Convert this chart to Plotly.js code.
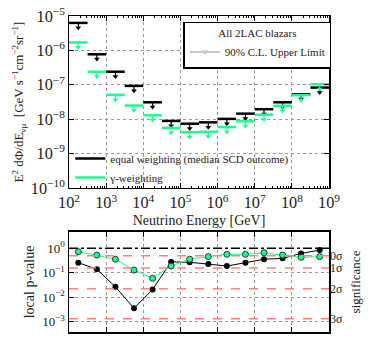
<!DOCTYPE html>
<html>
<head>
<meta charset="utf-8">
<script src="https://cdn.plot.ly/plotly-3.0.1.min.js"></script>
<style>
  html, body { margin: 0; padding: 0; background: #fff; }
  #chart { width: 374px; height: 343px; }
</style>
</head>
<body>
<div id="chart"></div>
<script>
// half-decade energy bins, log10(E/GeV)
const binEdges = [2, 2.5, 3, 3.5, 4, 4.5, 5, 5.5, 6, 6.5, 7, 7.5, 8, 8.5, 9];

// 90% C.L. upper limits, E^2 dPhi/dE [GeV s^-1 cm^-2 sr^-1]
const limitEqual = [6.3e-6, 7.7e-7, 2.4e-7, 9.3e-8, 3.1e-8, 8.9e-9, 7.4e-9, 8.1e-9, 1.02e-8, 1.45e-8, 1.95e-8, 3.1e-8, 5.3e-8, 8.3e-8];
const limitGamma = [1.7e-6, 2.4e-7, 5.1e-8, 2.5e-8, 1.3e-8, 5.6e-9, 4.2e-9, 4.3e-9, 5.9e-9, 8.7e-9, 1.35e-8, 2.45e-8, 5.0e-8, 1.04e-7];

// local p-values per bin
const pEqual = [0.26, 0.14, 0.027, 0.0036, 0.021, 0.28, 0.27, 0.23, 0.19, 0.26, 0.36, 0.39, 0.62, 0.85];
const pGamma = [0.73, 0.53, 0.36, 0.13, 0.060, 0.19, 0.36, 0.46, 0.57, 0.57, 0.66, 0.53, 0.43, 0.46];

// one-sided p-values for 0..3 sigma
const sigmaP = [0.5, 0.1587, 0.02275, 0.00135];
const sigmaLabels = ['0σ', '1σ', '2σ', '3σ'];

// p-value axis ticks
const pTicks = [1, 0.1, 0.01, 0.001];
const pTickText = ['10<sup>0</sup>', '10<sup>−1</sup>', '10<sup>−2</sup>', '10<sup>−3</sup>'];

const GREEN = '#1aff8c';
const SERIF = 'Liberation Serif, DejaVu Serif, serif';
const ARROW = Math.pow(10, -0.17);

const centers = binEdges.slice(0, -1).map((e, i) => Math.pow(10, (e + binEdges[i + 1]) / 2));

function limitTraces(vals, color, name) {
    const bx = [], by = [], sx = [], sy = [], hx = [], hy = [];
    vals.forEach((v, i) => {
        bx.push(Math.pow(10, binEdges[i]), Math.pow(10, binEdges[i + 1]), null);
        by.push(v, v, null);
        sx.push(centers[i], centers[i], null);
        sy.push(v, v * ARROW, null);
        hx.push(centers[i]);
        hy.push(v * Math.pow(10, -0.14));
    });
    return [
        { x: bx, y: by, mode: 'lines', line: { color: color, width: 2.5 }, name: name,
          legend: 'legend2', xaxis: 'x', yaxis: 'y', hoverinfo: 'skip' },
        { x: sx, y: sy, mode: 'lines', line: { color: color, width: 1.2 }, showlegend: false,
          xaxis: 'x', yaxis: 'y', hoverinfo: 'skip' },
        { x: hx, y: hy, mode: 'markers', marker: { symbol: 'triangle-down', size: 5, color: color },
          showlegend: false, xaxis: 'x', yaxis: 'y' }
    ];
}

const data = [
    ...limitTraces(limitEqual, '#000', 'equal weighting (median SCD outcome)'),
    ...limitTraces(limitGamma, GREEN, 'γ-weighting'),
    // legend entry for the upper-limit symbol
    { x: [null], y: [null], mode: 'lines+markers', name: '90% C.L. Upper Limit', legend: 'legend',
      line: { color: '#c8c8c8', width: 2 }, marker: { symbol: 'triangle-down', size: 6, color: '#c8c8c8' },
      xaxis: 'x', yaxis: 'y' },
    { x: centers, y: pEqual, mode: 'lines+markers', showlegend: false, xaxis: 'x2', yaxis: 'y2',
      line: { color: '#000', width: 1 }, marker: { size: 6, color: '#000' } },
    { x: centers, y: pGamma, mode: 'lines+markers', showlegend: false, xaxis: 'x2', yaxis: 'y2',
      line: { color: GREEN, width: 1 }, marker: { size: 6, color: GREEN, line: { color: '#333', width: 1 } } },
    // carrier for the significance axis
    { x: centers, y: pGamma, mode: 'markers', showlegend: false, xaxis: 'x2', yaxis: 'y3',
      marker: { opacity: 0 }, hoverinfo: 'skip' }
];

const axisBase = {
    type: 'log',
    showline: true, linecolor: '#000', linewidth: 1.5, mirror: 'ticks',
    ticks: 'inside', ticklen: 5, tickcolor: '#000',
    showgrid: true, gridcolor: '#999', griddash: 'dot', gridwidth: 1,
    zeroline: false, exponentformat: 'power', dtick: 1,
    tickfont: { family: SERIF, size: 13, color: '#222' }
};

const shapes = [{
    type: 'line', xref: 'x2 domain', yref: 'y2', x0: 0, x1: 1, y0: 1, y1: 1,
    line: { color: '#000', width: 1.5, dash: 'dashdot' }
}];
sigmaP.forEach(p => shapes.push({
    type: 'line', xref: 'x2 domain', yref: 'y2', x0: 0, x1: 1, y0: p, y1: p,
    line: { color: '#ff8080', width: 1.5, dash: 'dash' }
}));

const layout = {
    width: 374, height: 343,
    margin: { l: 69, r: 45, t: 16, b: 11 },
    paper_bgcolor: '#fff', plot_bgcolor: '#fff',
    font: { family: SERIF, color: '#222' },
    xaxis: Object.assign({}, axisBase, {
        range: [2, 9], domain: [0, 1], anchor: 'y',
        minor: { ticks: 'inside', ticklen: 2, tickcolor: '#000', showgrid: false },
        title: { text: 'Neutrino Energy [GeV]', font: { family: SERIF, size: 14 }, standoff: 4 }
    }),
    yaxis: Object.assign({}, axisBase, {
        range: [-10, -5], domain: [0.4557, 1], anchor: 'x',
        title: { text: 'E<sup>2</sup> dΦ/dE<sub>νμ</sub>  [GeV s<sup>−1</sup>cm<sup>−2</sup>sr<sup>−1</sup>]',
                 font: { family: SERIF, size: 13 }, standoff: 4 }
    }),
    xaxis2: Object.assign({}, axisBase, {
        range: [2, 9], domain: [0, 1], anchor: 'y2', showticklabels: false
    }),
    yaxis2: Object.assign({}, axisBase, {
        range: [-3.41, 0.666], domain: [0, 0.3165], anchor: 'x2', mirror: true,
        tickmode: 'array', tickvals: pTicks, ticktext: pTickText,
        title: { text: 'local p-value', font: { family: SERIF, size: 14 }, standoff: 4 }
    }),
    yaxis3: {
        type: 'log', range: [-3.41, 0.666], overlaying: 'y2', anchor: 'x2', side: 'right',
        tickmode: 'array', tickvals: sigmaP, ticktext: sigmaLabels,
        ticks: '', showgrid: false, zeroline: false, showline: false,
        tickfont: { family: SERIF, size: 12, color: '#222' },
        title: { text: 'significance', font: { family: SERIF, size: 13 }, standoff: 8 }
    },
    legend: {
        x: 1.009, xanchor: 'right', y: 0.982, yanchor: 'top',
        bgcolor: '#fff', bordercolor: '#000', borderwidth: 1.5,
        title: { text: 'All 2LAC blazars', side: 'top center', font: { family: SERIF, size: 11 } },
        font: { family: SERIF, size: 11, color: '#222' }
    },
    legend2: {
        x: 0.005, xanchor: 'left', y: 0.595, yanchor: 'top',
        bgcolor: 'rgba(0,0,0,0)', borderwidth: 0, tracegroupgap: 0,
        font: { family: SERIF, size: 11, color: '#222' }
    },
    shapes: shapes,
    showlegend: true
};

Plotly.newPlot('chart', data, layout, { staticPlot: true, displayModeBar: false });
</script>
</body>
</html>
